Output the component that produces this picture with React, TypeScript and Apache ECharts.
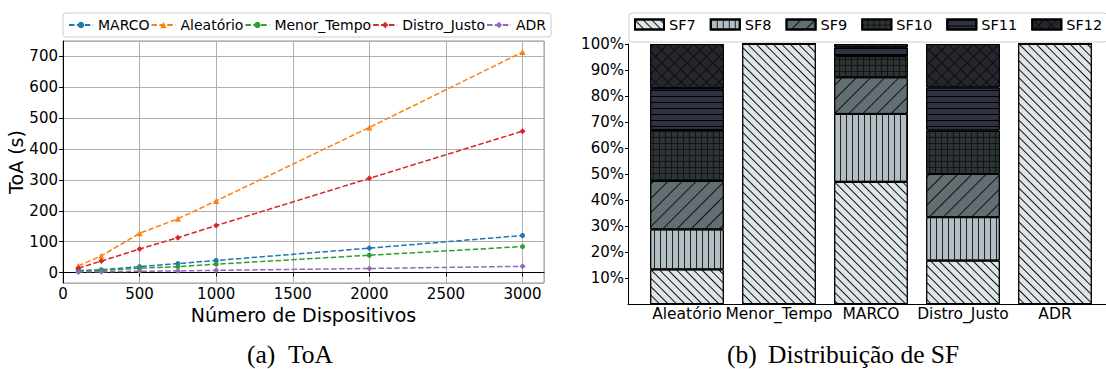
import React, { useEffect, useRef } from 'react';
import * as echarts from 'echarts';

// ---------- Left chart data (ToA) ----------
const devices = [100, 250, 500, 750, 1000, 2000, 3000];
const marco = [6.5, 9, 19, 29, 39, 79, 120];
const aleatorio = [21, 54, 127, 174, 232, 470, 714];
const menorTempo = [4.5, 6.5, 14, 19, 27, 56, 84];
const distroJusto = [14, 37, 76, 113, 152, 305, 458];
const adr = [2, 2.5, 4, 5, 7, 13, 20];
const lineNames = ['MARCO', 'Aleatório', 'Menor_Tempo', 'Distro_Justo', 'ADR'];

// ---------- Right chart data (SF distribution, %) ----------
const algorithms = ['Aleatório', 'Menor_Tempo', 'MARCO', 'Distro_Justo', 'ADR'];
const sfNames = ['SF7', 'SF8', 'SF9', 'SF10', 'SF11', 'SF12'];
const sf7 = [13.3, 100, 47.0, 16.7, 100];
const sf8 = [15.4, 0, 26.1, 16.7, 0];
const sf9 = [18.6, 0, 14.1, 16.6, 0];
const sf10 = [19.6, 0, 8.1, 16.7, 0];
const sf11 = [16.1, 0, 3.4, 16.6, 0];
const sf12 = [17.0, 0, 1.3, 16.7, 0];

const FONT = 'DejaVu Sans';

export default function App() {
  const ref = useRef<HTMLDivElement>(null);

  useEffect(() => {
    const chart = echarts.init(ref.current!, null, { renderer: 'svg' });

    const lineData = [marco, aleatorio, menorTempo, distroJusto, adr];
    const lineColors = ['#1f77b4', '#ff7f0e', '#2ca02c', '#d62728', '#9467bd'];
    const lineSymbols = ['circle', 'triangle', 'circle', 'diamond', 'diamond'];
    const lineSymbolSizes = [5, 6, 5, 6, 6];

    const sfData = [sf7, sf8, sf9, sf10, sf11, sf12];
    const sfFill = ['#dfe6e9', '#b2bec3', '#636e72', '#111514', '#2e3242', '#0d0d10'];
    const decals: any[] = [
      { symbol: 'rect', dashArrayX: [1, 0], dashArrayY: [1, 5], rotation: Math.PI / 4, color: '#111' },
      { symbol: 'rect', dashArrayX: [1, 5], dashArrayY: [1, 0], color: '#222' },
      { symbol: 'rect', dashArrayX: [1, 0], dashArrayY: [1, 9], rotation: -Math.PI / 4, color: '#111' },
      { symbol: 'rect', dashArrayX: [5, 1], dashArrayY: [5, 1], color: '#2d3436' },
      { symbol: 'rect', dashArrayX: [1, 0], dashArrayY: [1, 5], color: '#000' },
      { symbol: 'rect', dashArrayX: [8, 1], dashArrayY: [8, 1], rotation: Math.PI / 4, color: '#26272e' },
    ];

    const tickLabel = { color: '#000', fontSize: 15, fontFamily: FONT };
    const plain = (v: number) => String(v);

    const option: any = {
      animation: false,
      backgroundColor: '#fff',
      textStyle: { fontFamily: FONT },
      grid: [
        { left: 63, top: 41, width: 481, height: 242, show: true, borderColor: '#999', borderWidth: 1, backgroundColor: 'transparent' },
        { left: 641, top: 44, width: 460, height: 260 },
        { left: 628, top: 44, width: 478, height: 260 },
      ],
      legend: [
        {
          data: lineNames,
          left: 63, top: 13,
          padding: [5, 5, 5, 5],
          itemGap: 1, itemWidth: 24, itemHeight: 8,
          textStyle: { fontSize: 14, color: '#000', fontFamily: FONT },
          borderColor: '#ccc', borderWidth: 1, borderRadius: 3,
          backgroundColor: 'rgba(255,255,255,0.8)',
        },
        {
          data: sfNames,
          left: 629, top: 13, width: 540,
          padding: [4, 5, 10, 5],
          itemGap: 14, itemWidth: 29, itemHeight: 10,
          icon: 'rect',
          textStyle: { fontSize: 14.5, color: '#000', fontFamily: FONT },
          borderColor: '#ccc', borderWidth: 1, borderRadius: 3,
          backgroundColor: 'rgba(255,255,255,0.8)',
        },
      ],
      xAxis: [
        {
          type: 'value', gridIndex: 0, min: 0, max: 3140,
          axisLine: { show: true, lineStyle: { color: '#000', width: 1 } },
          axisTick: { show: true, length: 4, lineStyle: { color: '#000' } },
          axisLabel: { ...tickLabel, margin: 3, showMaxLabel: false, formatter: plain },
          splitLine: { show: true, lineStyle: { color: '#b0b0b0', width: 1 } },
          name: 'Número de Dispositivos', nameLocation: 'middle', nameGap: 18,
          nameTextStyle: { fontSize: 19, color: '#000', fontFamily: FONT },
        },
        {
          type: 'category', gridIndex: 1, data: algorithms,
          axisLine: { show: false }, axisTick: { show: false },
          axisLabel: { ...tickLabel, fontSize: 15.5, margin: 2, interval: 0 },
          splitLine: { show: false },
        },
        {
          type: 'value', gridIndex: 2, min: 0, max: 1,
          axisLine: { show: true, lineStyle: { color: '#000', width: 1 } },
          axisTick: { show: false }, axisLabel: { show: false }, splitLine: { show: false },
        },
      ],
      yAxis: [
        {
          type: 'value', gridIndex: 0, min: -34, max: 750, splitNumber: 8,
          axisLine: { show: true, lineStyle: { color: '#000', width: 1 } },
          axisTick: { show: true, length: 4, lineStyle: { color: '#000' } },
          axisLabel: { ...tickLabel, margin: 5, showMinLabel: false, showMaxLabel: false, formatter: plain },
          splitLine: { show: true, lineStyle: { color: '#b0b0b0', width: 1 } },
          name: 'ToA (s)', nameLocation: 'middle', nameGap: 33,
          nameTextStyle: { fontSize: 19, color: '#000', fontFamily: FONT },
        },
        {
          type: 'value', gridIndex: 1, min: 0, max: 100, show: false,
        },
        {
          type: 'value', gridIndex: 2, min: 0, max: 100, interval: 10,
          axisLine: { show: true, lineStyle: { color: '#000', width: 1 } },
          axisTick: { show: true, length: 3, lineStyle: { color: '#000' } },
          axisLabel: { ...tickLabel, margin: 4, showMinLabel: false, formatter: '{value}%' },
          splitLine: { show: false },
        },
      ],
      series: [
        ...lineNames.map((n, i) => ({
          name: n, type: 'line', xAxisIndex: 0, yAxisIndex: 0,
          data: devices.map((d, j) => [d, lineData[i][j]]),
          symbol: lineSymbols[i], symbolSize: lineSymbolSizes[i], showSymbol: true,
          lineStyle: { color: lineColors[i], width: 1.5, type: [5.5, 2.4] },
          itemStyle: { color: lineColors[i] },
          z: 2 + i,
        })),
        ...sfNames.map((n, k) => ({
          name: n, type: 'bar', xAxisIndex: 1, yAxisIndex: 1, stack: 'sf', barWidth: '80%',
          data: sfData[k],
          itemStyle: { color: sfFill[k], borderColor: '#000', borderWidth: 1, decal: decals[k] },
        })),
      ],
      graphic: [
        { type: 'text', left: 247, top: 341, style: { text: '(a)', font: '25.5px "Liberation Serif"', fill: '#000' } },
        { type: 'text', left: 288, top: 341, style: { text: 'ToA', font: '25.5px "Liberation Serif"', fill: '#000' } },
        { type: 'text', left: 727, top: 341, style: { text: '(b)', font: '25.5px "Liberation Serif"', fill: '#000' } },
        { type: 'text', left: 768, top: 341, style: { text: 'Distribuição de SF', font: '25.5px "Liberation Serif"', fill: '#000' } },
      ],
    };

    chart.setOption(option);
    return () => chart.dispose();
  }, []);

  return (
    <div
      ref={ref}
      style={{ position: 'fixed', left: 0, top: 0, width: 1106, height: 369, background: '#fff' }}
    />
  );
}
